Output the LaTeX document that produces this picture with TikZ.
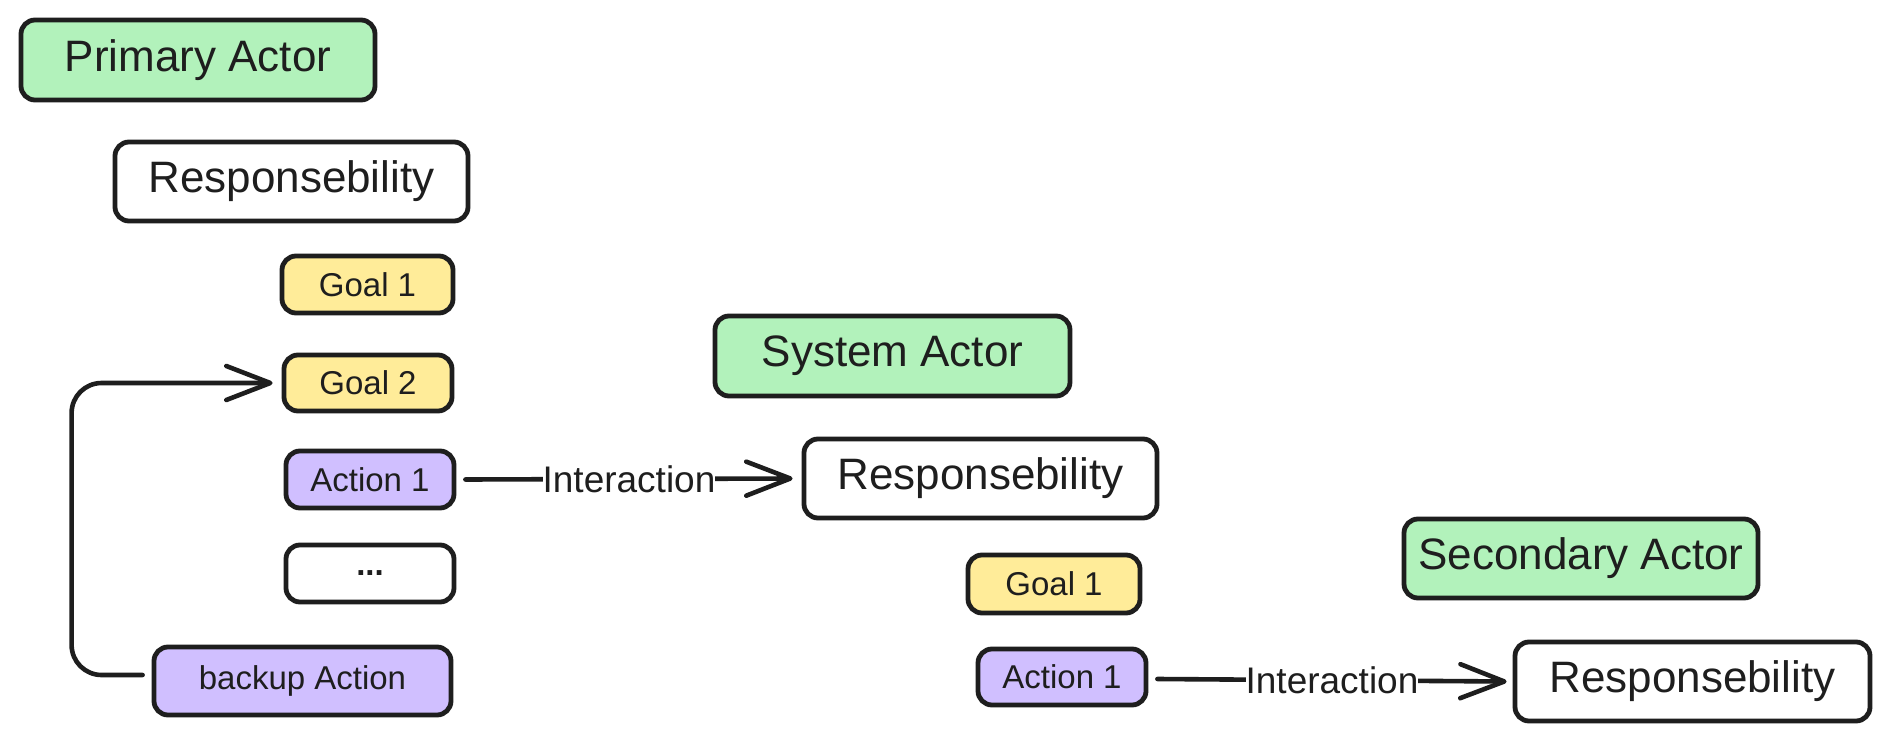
\documentclass[tikz,border=0pt]{standalone}
\usepackage{fontspec}
\setmainfont{Liberation Sans}
\usetikzlibrary{arrows.meta}
\definecolor{ink}{HTML}{1E1E1E}
\definecolor{actorgreen}{HTML}{B2F2BB}
\definecolor{goalyellow}{HTML}{FFEC99}
\definecolor{actionpurple}{HTML}{D0BFFF}
\newcommand{\bigtxt}{\fontsize{22pt}{26pt}\selectfont}
\newcommand{\smalltxt}{\fontsize{16.5pt}{20pt}\selectfont}
\newcommand{\lbltxt}{\fontsize{18.5pt}{20pt}\selectfont}
\tikzset{
  box/.style={draw=ink, line width=2.4pt, rounded corners=7pt, inner sep=0pt, text=ink, anchor=center},
  actor/.style={box, fill=actorgreen, font=\bigtxt},
  resp/.style={box, fill=white, font=\bigtxt},
  goal/.style={box, fill=goalyellow, font=\smalltxt},
  action/.style={box, fill=actionpurple, font=\smalltxt},
  plain/.style={box, fill=white, font=\smalltxt},
  conn/.style={draw=ink, line width=2.3pt, line cap=round, line join=round,
    -{Straight Barb[length=22pt, width=17pt, round]}},
  lbl/.style={fill=white, inner sep=0pt, text=ink, font=\lbltxt}
}
\begin{document}
\begin{tikzpicture}[x=0.5pt, y=-0.5pt]
\fill[white] (0,0) rectangle (1890,743);
\useasboundingbox (0,0) rectangle (1890,743);

% Primary actor column
\node[actor, minimum width=177pt, minimum height=40pt] (PA) at (198,60) {Primary Actor};
\node[resp, minimum width=176.5pt, minimum height=39.5pt] (R1) at (291.5,181.5) {Responsebility};
\node[goal, minimum width=85.5pt, minimum height=28.5pt] (G1) at (367.5,284.5) {Goal 1};
\node[goal, minimum width=84pt, minimum height=28pt] (G2) at (368,383) {Goal 2};
\node[action, minimum width=84pt, minimum height=28.5pt] (A1) at (370,479.5) {Action 1};
\node[plain, minimum width=84pt, minimum height=28.5pt] (D) at (370,573.5) {\textbf{...}};
\node[action, minimum width=148.5pt, minimum height=34pt] (BA) at (302.5,681) {backup Action};

% System actor column
\node[actor, minimum width=177.5pt, minimum height=40pt] (SA) at (892.5,356) {System Actor};
\node[resp, minimum width=176.5pt, minimum height=39.5pt] (R2) at (980.5,478.5) {Responsebility};
\node[goal, minimum width=86pt, minimum height=29pt] (G1s) at (1054,584) {Goal 1};
\node[action, minimum width=84pt, minimum height=28pt] (A1s) at (1062,677) {Action 1};

% Secondary actor column
\node[actor, minimum width=177pt, minimum height=39.5pt] (SecA) at (1581,558.5) {Secondary Actor};
\node[resp, minimum width=177.5pt, minimum height=39.5pt] (R3) at (1692.5,681.5) {Responsebility};

% Connectors
\draw[conn, rounded corners=15pt] ([xshift=-4.5pt, yshift=3pt]BA.west) -| ([xshift=-105pt]G2.west) -- ([xshift=-4.5pt]G2.west);
\draw[conn] ([xshift=4.5pt]A1.east) -- node[lbl] {Interaction} ([xshift=-4.5pt]R2.west);
\draw[conn] ([xshift=4.5pt, yshift=-1pt]A1s.east) -- node[lbl] {Interaction} ([xshift=-3pt]R3.west);
\end{tikzpicture}
\end{document}
